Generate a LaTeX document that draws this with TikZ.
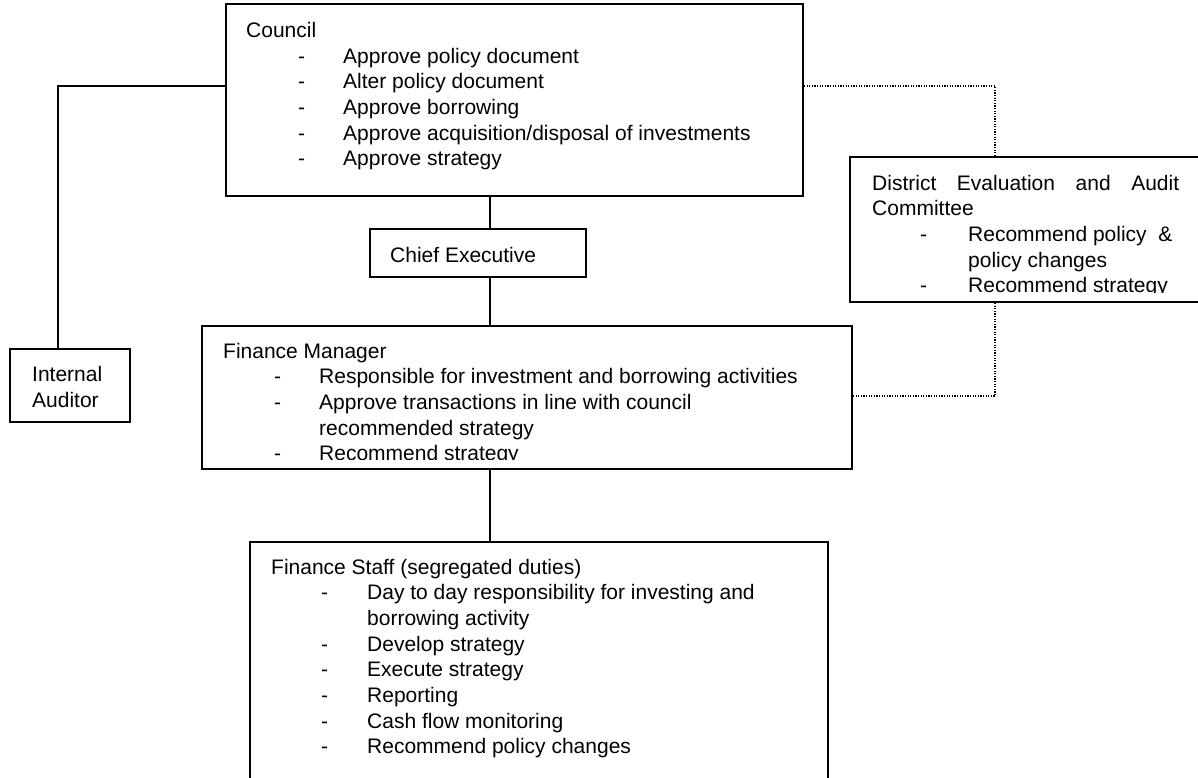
\documentclass[tikz,border=0pt]{standalone}
\usepackage{fontspec}
\setmainfont{Liberation Sans}
\begin{document}
\begin{tikzpicture}[x=1pt,y=-1pt,
  box/.style={draw, line width=1.8pt, inner sep=0pt},
  txt/.style={anchor=base west, inner sep=0pt, font=\fontsize{21}{25}\selectfont},
  link/.style={line width=1.8pt},
  dotlink/.style={line width=1.2pt, dash pattern=on 1.2pt off 1.4pt}]
\useasboundingbox (0,0) rectangle (1198,778);
\clip (0,0) rectangle (1198,778);

% boxes
\node[box, minimum width=577pt, minimum height=192pt] (council) at (514.5,100) {};
\node[box, minimum width=216pt, minimum height=48pt] (chief) at (478,253) {};
\node[box, minimum width=650pt, minimum height=143pt] (fm) at (527,397.5) {};
\node[box, minimum width=120pt, minimum height=73pt] (auditor) at (70,385.5) {};
\node[box, minimum width=350pt, minimum height=145pt] (deac) at (1025,229.5) {};
\node[box, minimum width=578pt, minimum height=258pt] (staff) at (539,671) {};

% council text
\node[txt] (c0) at (246,37.5) {Council};
\foreach \t [count=\i] in {Approve policy document, Alter policy document, Approve borrowing, Approve acquisition/disposal of investments, Approve strategy}{
  \node[txt] (cd\i) at (298,{37.5+25.7*\i}) {-};
  \node[txt] (ct\i) at (343,{37.5+25.7*\i}) {\t};
}

% chief executive
\node[txt] (ch) at (390,262) {Chief Executive};

% internal auditor
\node[txt] (ia1) at (32,381) {Internal};
\node[txt] (ia2) at (32,407) {Auditor};

% finance manager
\begin{scope}
\clip (200,320) rectangle (860,459);
\node[txt] (f0) at (223,358) {Finance Manager};
\node[txt] (fd1) at (274,383.7) {-};
\node[txt] (ft1) at (319,383.7) {Responsible for investment and borrowing activities};
\node[txt] (fd2) at (274,409.4) {-};
\node[txt] (ft2) at (319,409.4) {Approve transactions in line with council};
\node[txt] (ft3) at (319,435.1) {recommended strategy};
\node[txt] (fd4) at (274,460.8) {-};
\node[txt] (ft4) at (319,460.8) {Recommend strategy};
\end{scope}

% DEAC
\begin{scope}
\clip (850,150) rectangle (1200,292);
\node[txt] (d0) at (872,190) {\makebox[307pt][s]{District Evaluation and Audit}};
\node[txt] (d1) at (872,215.7) {Committee};
\node[txt] (dd2) at (920,241.4) {-};
\node[txt] (dt2) at (968,241.4) {Recommend policy\ \ \&};
\node[txt] (dt3) at (968,267.1) {policy changes};
\node[txt] (dd4) at (920,292.8) {-};
\node[txt] (dt4) at (968,292.8) {Recommend strategy};
\end{scope}

% finance staff
\node[txt] (s0) at (271,574) {Finance Staff (segregated duties)};
\node[txt] (sd1) at (321,599.7) {-};
\node[txt] (st1) at (367,599.7) {Day to day responsibility for investing and};
\node[txt] (st1b) at (367,625.4) {borrowing activity};
\foreach \t [count=\i] in {Develop strategy, Execute strategy, Reporting, Cash flow monitoring, Recommend policy changes}{
  \node[txt] (sd\i x) at (321,{625.4+25.7*\i}) {-};
  \node[txt] (st\i x) at (367,{625.4+25.7*\i}) {\t};
}

% connectors
\coordinate (ja) at (58,86);
\coordinate (jv) at (490,0);
\coordinate (jd) at (995,86);
\coordinate (jf) at (995,396);
\draw[link] (council.west |- ja) -- (ja) -- (auditor.north -| ja);
\draw[link] (council.south -| jv) -- (chief.north -| jv);
\draw[link] (chief.south -| jv) -- (fm.north -| jv);
\draw[link] (fm.south -| jv) -- (staff.north -| jv);
\draw[dotlink] (council.east |- ja) -- (jd) -- (deac.north -| jd);
\draw[dotlink] (deac.south -| jd) -- (jf) -- (fm.east |- jf);
\end{tikzpicture}
\end{document}
